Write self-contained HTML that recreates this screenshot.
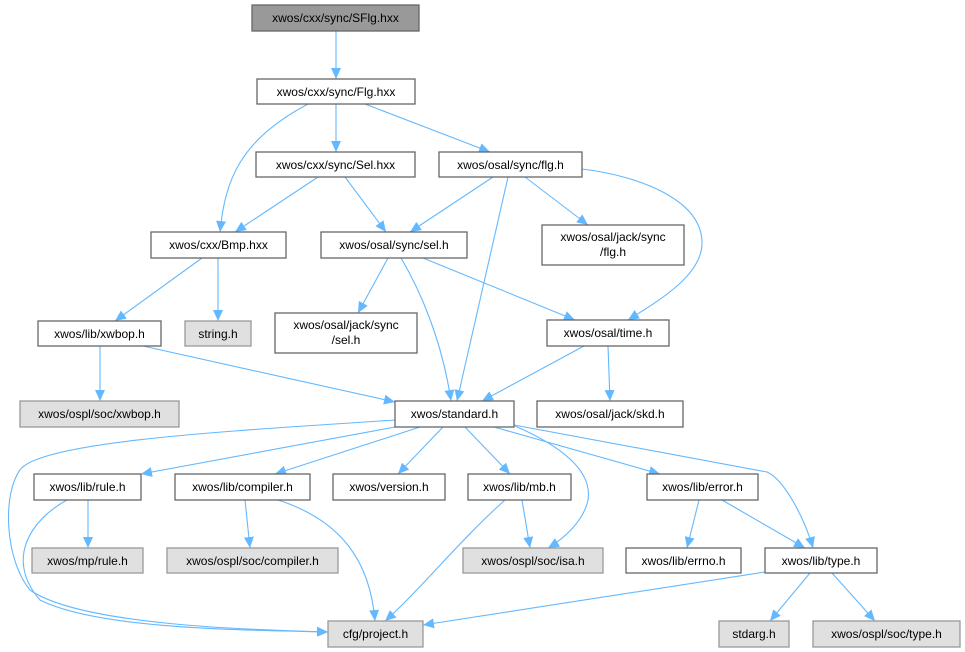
<!DOCTYPE html>
<html><head><meta charset="utf-8"><style>
html,body{margin:0;padding:0;background:#fff;}
svg{display:block;}
text{font-family:"Liberation Sans",Arial,sans-serif;font-size:12px;fill:#000;}
.n{fill:#fff;stroke:#666;stroke-width:1.3;}
.g{fill:#e0e0e0;stroke:#999;stroke-width:1.3;}
.e{fill:none;stroke:#63b8ff;stroke-width:1.1;marker-end:url(#a);}
</style></head><body>
<svg width="965" height="652" viewBox="0 0 965 652" xmlns="http://www.w3.org/2000/svg">
<defs><marker id="a" markerUnits="userSpaceOnUse" markerWidth="12" markerHeight="10" refX="11" refY="5" orient="auto"><path d="M0,0 L11,5 L0,10 z" fill="#63b8ff"/></marker></defs>
<g>
<path class="e" d="M336,31 L336,79"/>
<path class="e" d="M308,104 C240,140 225,180 220,232"/>
<path class="e" d="M336,104 L336,152"/>
<path class="e" d="M365,104 L490,152"/>
<path class="e" d="M318,177 L235,232"/>
<path class="e" d="M345,177 L386,232"/>
<path class="e" d="M493,177 L410,232"/>
<path class="e" d="M508,177 L457,401"/>
<path class="e" d="M525,177 L588,225"/>
<path class="e" d="M582,169 C640,176 702,200 702,243 C702,275 660,300 628,320"/>
<path class="e" d="M202,258 L115,321"/>
<path class="e" d="M218,258 L218,321"/>
<path class="e" d="M388,258 L358,313"/>
<path class="e" d="M401,258 C420,290 442,340 451,401"/>
<path class="e" d="M423,258 L575,320"/>
<path class="e" d="M100,346 L100,401"/>
<path class="e" d="M143,346 L395,402"/>
<path class="e" d="M584,346 L482,401"/>
<path class="e" d="M608,346 L610,401"/>
<path class="e" d="M395,420 C250,430 40,440 20,470 C2,495 5,560 30,590 C80,625 250,630 328,632"/>
<path class="e" d="M395,427 L141,474"/>
<path class="e" d="M420,427 L275,474"/>
<path class="e" d="M443,427 L398,474"/>
<path class="e" d="M465,427 L510,474"/>
<path class="e" d="M515,426 C570,450 592,475 588,500 C584,520 565,538 548,548"/>
<path class="e" d="M494,427 L660,474"/>
<path class="e" d="M514,425 L767,472 C785,480 805,520 813,548"/>
<path class="e" d="M88,500 L88,548"/>
<path class="e" d="M67,500 C30,520 5,560 40,600 C100,630 250,630 328,632"/>
<path class="e" d="M245,500 L250,548"/>
<path class="e" d="M278,500 C340,520 370,560 375,621"/>
<path class="e" d="M522,500 L530,548"/>
<path class="e" d="M505,500 C460,540 420,590 385,621"/>
<path class="e" d="M699,500 L687,548"/>
<path class="e" d="M722,500 L805,548"/>
<path class="e" d="M765,572 L423,625"/>
<path class="e" d="M810,573 L770,621"/>
<path class="e" d="M832,573 L875,621"/>
</g>
<g text-anchor="middle">
<rect x="252" y="5" width="167" height="26" fill="#999" stroke="#666" stroke-width="1.3"/><text x="335.5" y="22">xwos/cxx/sync/SFlg.hxx</text>
<rect class="n" x="257" y="79" width="158" height="25"/><text x="336" y="96">xwos/cxx/sync/Flg.hxx</text>
<rect class="n" x="256" y="152" width="159" height="25"/><text x="335.5" y="169">xwos/cxx/sync/Sel.hxx</text>
<rect class="n" x="439" y="152" width="143" height="25"/><text x="510.5" y="169">xwos/osal/sync/flg.h</text>
<rect class="n" x="542" y="225" width="142" height="40"/><text x="613" y="241">xwos/osal/jack/sync</text><text x="613" y="256">/flg.h</text>
<rect class="n" x="151" y="232" width="135" height="26"/><text x="218.5" y="249">xwos/cxx/Bmp.hxx</text>
<rect class="n" x="321" y="232" width="146" height="26"/><text x="394" y="249">xwos/osal/sync/sel.h</text>
<rect class="n" x="38" y="321" width="123" height="25"/><text x="99.5" y="338">xwos/lib/xwbop.h</text>
<rect class="g" x="185" y="321" width="66" height="25"/><text x="218" y="338">string.h</text>
<rect class="n" x="275" y="313" width="142" height="40"/><text x="346" y="329">xwos/osal/jack/sync</text><text x="346" y="344">/sel.h</text>
<rect class="n" x="547" y="320" width="122" height="26"/><text x="608" y="337">xwos/osal/time.h</text>
<rect class="g" x="20" y="401" width="159" height="26"/><text x="99.5" y="418">xwos/ospl/soc/xwbop.h</text>
<rect class="n" x="395" y="401" width="119" height="26"/><text x="454.5" y="418">xwos/standard.h</text>
<rect class="n" x="537" y="401" width="146" height="26"/><text x="610" y="418">xwos/osal/jack/skd.h</text>
<rect class="n" x="34" y="474" width="107" height="26"/><text x="87.5" y="491">xwos/lib/rule.h</text>
<rect class="n" x="175" y="474" width="135" height="26"/><text x="242.5" y="491">xwos/lib/compiler.h</text>
<rect class="n" x="333" y="474" width="112" height="26"/><text x="389" y="491">xwos/version.h</text>
<rect class="n" x="468" y="474" width="103" height="26"/><text x="519.5" y="491">xwos/lib/mb.h</text>
<rect class="n" x="647" y="474" width="111" height="26"/><text x="702.5" y="491">xwos/lib/error.h</text>
<rect class="g" x="32" y="548" width="111" height="25"/><text x="87.5" y="565">xwos/mp/rule.h</text>
<rect class="g" x="167" y="548" width="171" height="25"/><text x="252.5" y="565">xwos/ospl/soc/compiler.h</text>
<rect class="g" x="463" y="548" width="140" height="25"/><text x="533" y="565">xwos/ospl/soc/isa.h</text>
<rect class="n" x="626" y="548" width="115" height="25"/><text x="683.5" y="565">xwos/lib/errno.h</text>
<rect class="n" x="765" y="548" width="112" height="25"/><text x="821" y="565">xwos/lib/type.h</text>
<rect class="g" x="328" y="621" width="95" height="26"/><text x="375.5" y="638">cfg/project.h</text>
<rect class="g" x="719" y="621" width="70" height="26"/><text x="754" y="638">stdarg.h</text>
<rect class="g" x="813" y="621" width="147" height="26"/><text x="886.5" y="638">xwos/ospl/soc/type.h</text>
</g>
</svg>
</body></html>
